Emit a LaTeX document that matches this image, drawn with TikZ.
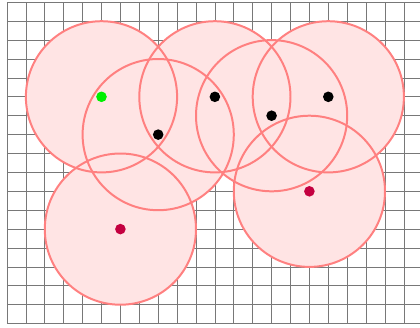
\documentclass[tikz,border=0pt]{standalone}
\definecolor{cfillc}{RGB}{255,228,228}
\definecolor{cedgec}{RGB}{255,128,128}
\definecolor{dotred}{RGB}{196,0,64}
\definecolor{dotgreen}{RGB}{0,240,0}
\definecolor{gridc}{RGB}{120,120,120}
\begin{document}
\begin{tikzpicture}[x=1cm,y=-1cm,
  gridline/.style={draw=gridc,line width=1.1pt},
  cfill/.style={fill=cfillc},
  cedge/.style={draw=cedgec,line width=3pt},
  dotbase/.style={circle,inner sep=0pt,outer sep=0pt,minimum size=0.56cm},
  dotk/.style={dotbase,fill=black},
  dotg/.style={dotbase,fill=dotgreen},
  dotr/.style={dotbase,fill=dotred}]
\useasboundingbox (-0.370,-0.122) rectangle (21.852,17.180);
\begin{scope}
\clip (-0.370,-0.122) rectangle (21.852,17.180);
\foreach \i in {0,...,22} \draw[gridline] (\i,0) -- (\i,17);
\foreach \j in {0,...,17} \draw[gridline] (0,\j) -- (22,\j);
\end{scope}
\foreach \p in {(5,5),(8,7),(11,5),(14,6),(17,5),(16,10),(6,12)}
  \fill[cfill] \p circle (4);
\foreach \p in {(5,5),(8,7),(11,5),(14,6),(17,5),(16,10),(6,12)}
  \draw[cedge] \p circle (4);
\node[dotg] (d1) at (5,5) {};
\node[dotk] (d2) at (8,7) {};
\node[dotk] (d3) at (11,5) {};
\node[dotk] (d4) at (14,6) {};
\node[dotk] (d5) at (17,5) {};
\node[dotr] (d6) at (16,10) {};
\node[dotr] (d7) at (6,12) {};
\end{tikzpicture}
\end{document}
